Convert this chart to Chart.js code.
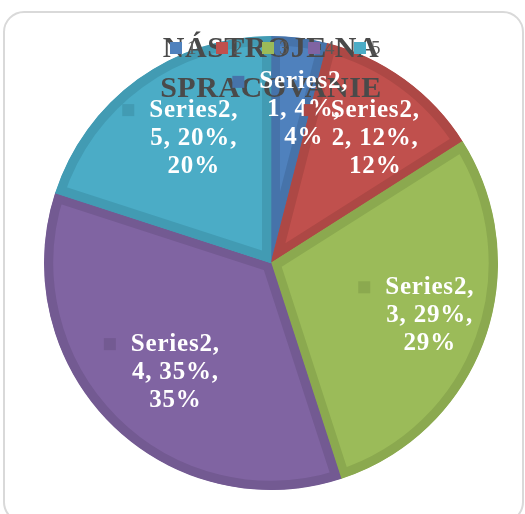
<!DOCTYPE html>
<html>
<head>
<meta charset="utf-8">
<script src="https://cdn.jsdelivr.net/npm/chart.js@4.4.0/dist/chart.umd.min.js"></script>
<style>
  html, body { margin: 0; padding: 0; background: #fff; }
  canvas { display: block; }
</style>
</head>
<body>
<canvas id="myChart" width="525" height="514"></canvas>
<script>
// Chart data
var title = ['NÁSTROJE NA', 'SPRACOVANIE'];
var seriesName = 'Series2';
var categories = ['1', '2', '3', '4', '5'];
var values = [4, 12, 29, 35, 20];

// Office-style colours: fill and the darker bevel edge
var fillColors = ['#4F81BD', '#C0504D', '#9BBB59', '#8064A2', '#4BACC6'];
var edgeColors = ['#4673AA', '#AD4845', '#8BA94F', '#735A92', '#429BB3'];

var serif = '"Liberation Serif", "DejaVu Serif", serif';

// frame, title, legend and data labels are painted by hand
var decorations = {
  id: 'decorations',
  beforeDraw: function (chart) {
    var c = chart.ctx;
    c.save();
    c.strokeStyle = '#d9d9d9';
    c.lineWidth = 2;
    c.beginPath();
    c.roundRect(4, 12, 519, 510, 20);
    c.stroke();
    c.restore();
  },
  afterDatasetsDraw: function (chart) {
    var c = chart.ctx;
    var meta = chart.getDatasetMeta(0);
    var total = values.reduce(function (a, b) { return a + b; }, 0);

    c.save();
    // title
    c.fillStyle = '#4a4a4a';
    c.font = 'bold 30px ' + serif;
    c.textAlign = 'center';
    c.textBaseline = 'middle';
    c.letterSpacing = '0.5px';
    c.fillText(title[0], 271, 49);
    c.fillText(title[1], 271, 89);

    // legend along the top
    c.letterSpacing = '0px';
    c.font = '19px ' + serif;
    c.textAlign = 'left';
    var lx = 170;
    categories.forEach(function (cat, i) {
      c.fillStyle = fillColors[i];
      c.fillRect(lx, 42, 12, 12);
      c.fillStyle = '#595959';
      c.fillText(cat, lx + 17, 49);
      lx += 46;
    });

    // data labels
    c.font = 'bold 25px ' + serif;
    c.letterSpacing = '0.8px';
    meta.data.forEach(function (arc, i) {
      var p = arc.getProps(['x', 'y', 'startAngle', 'endAngle', 'outerRadius'], true);
      var mid = (p.startAngle + p.endAngle) / 2;
      var r = p.outerRadius * 0.68;
      var bx = p.x + Math.cos(mid) * r;
      var by = p.y + Math.sin(mid) * r;
      var pct = Math.round(values[i] / total * 100) + '%';
      var lines = [seriesName + ',', categories[i] + ', ' + pct + ',', pct];
      var tw = Math.max.apply(null, lines.map(function (s) { return c.measureText(s).width; }));
      var blockW = 12 + 15 + tw;
      var left = bx - blockW / 2;
      var tx = left + 27 + tw / 2;
      var lh = 28;
      c.fillStyle = edgeColors[i];
      c.fillRect(left, by - lh - 6, 12, 12);
      c.fillStyle = '#ffffff';
      c.textAlign = 'center';
      lines.forEach(function (s, k) {
        c.fillText(s, tx, by + (k - 1) * lh);
      });
    });
    c.restore();
  }
};

var ctx = document.getElementById('myChart').getContext('2d');
var myChart = new Chart(ctx, {
  type: 'pie',
  data: {
    labels: categories,
    datasets: [{
      label: seriesName,
      data: values,
      backgroundColor: fillColors,
      borderColor: edgeColors,
      borderWidth: 9,
      borderAlign: 'inner'
    }]
  },
  options: {
    responsive: false,
    animation: false,
    layout: { padding: { left: 44, right: 27, top: 36, bottom: 24 } },
    plugins: {
      legend: { display: false },
      title: { display: false },
      tooltip: { enabled: false }
    }
  },
  plugins: [decorations]
});
</script>
</body>
</html>
